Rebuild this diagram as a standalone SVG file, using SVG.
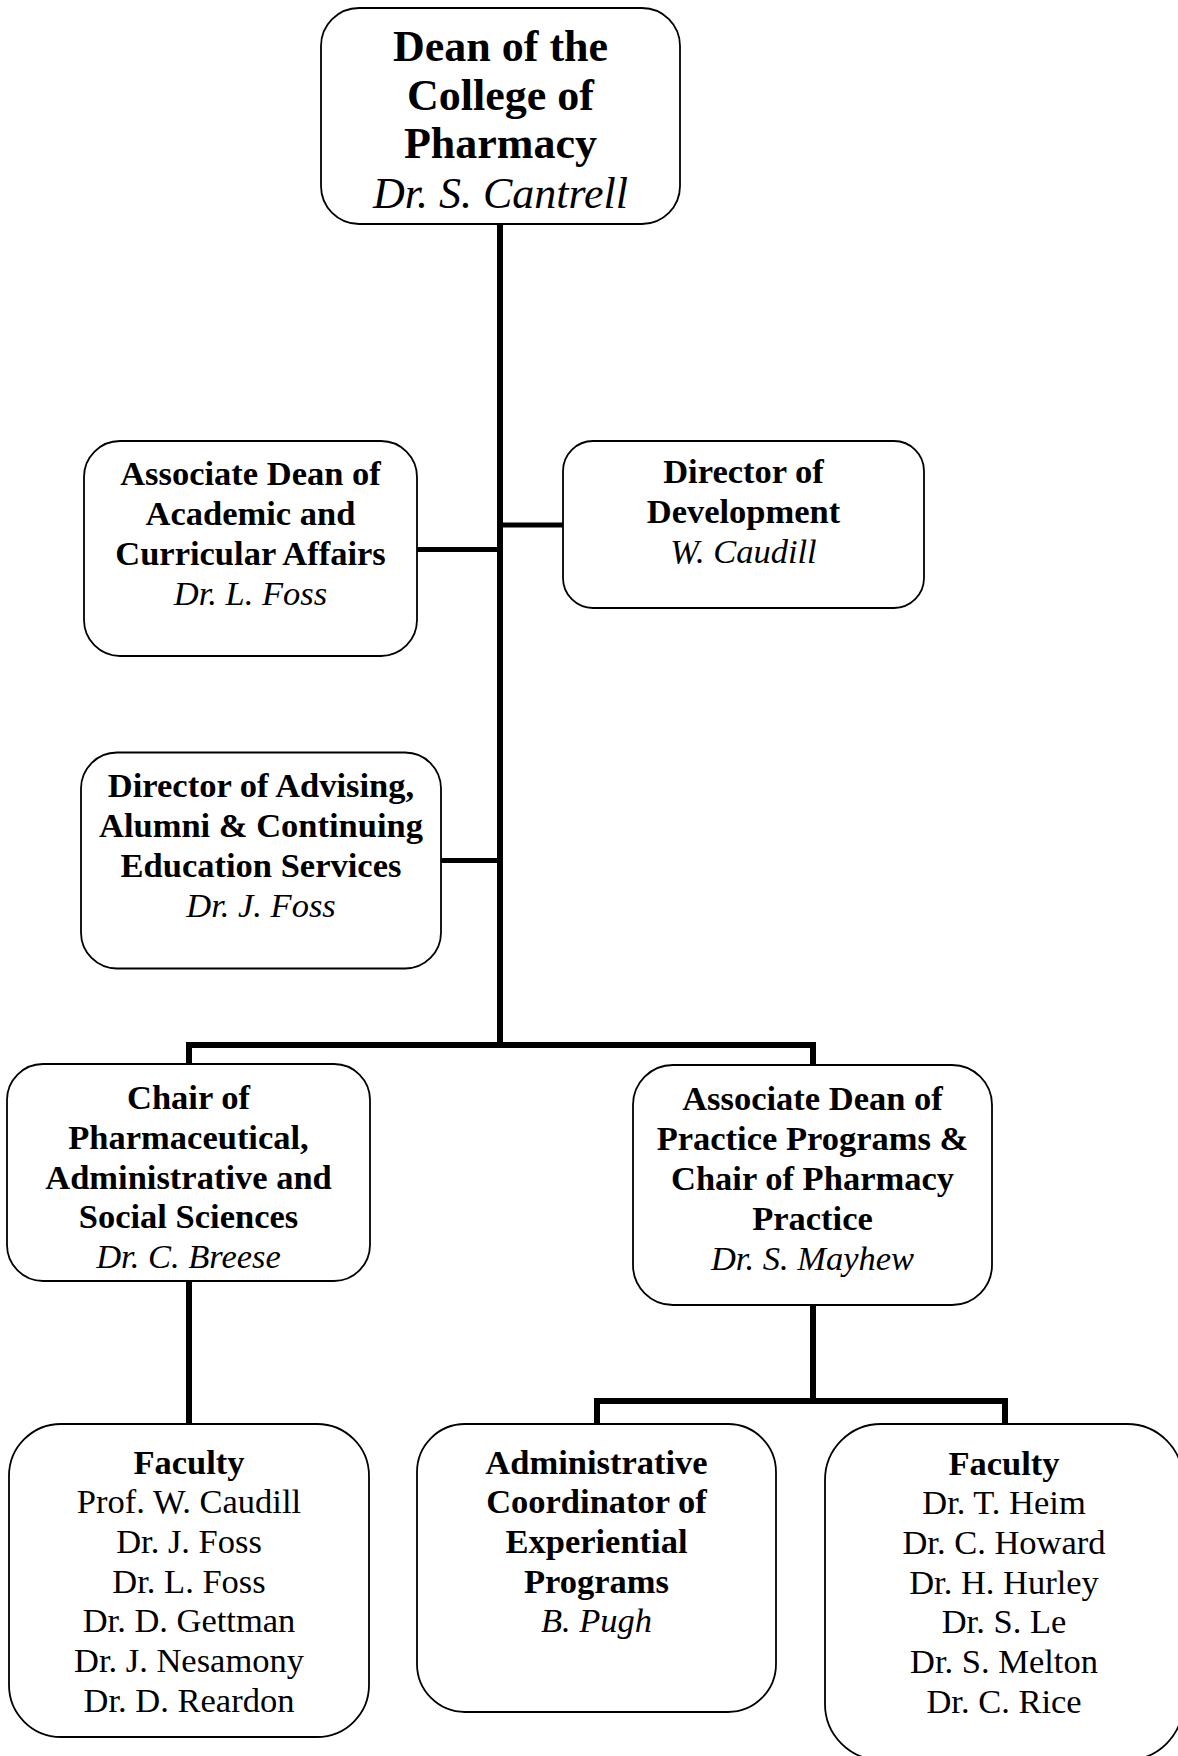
<svg xmlns="http://www.w3.org/2000/svg" width="1178" height="1756" viewBox="0 0 1178 1756">
<style>
.box{fill:#fff;stroke:#000;stroke-width:1.8}
.c{fill:none;stroke:#000;stroke-width:6;stroke-linejoin:miter;stroke-linecap:butt}
.b{stroke-width:5}
text{font-family:"Liberation Serif","Times New Roman",serif;font-size:34.5px;text-anchor:middle;fill:#000}
.t{font-weight:bold}
.i{font-style:italic}
.big{font-size:44px}
</style>
<rect width="1178" height="1756" fill="#fff"/>
<g id="connectors">
<path class="c" d="M500,224 V1045"/>
<path class="c" d="M189,1064 V1045 H813 V1065"/>
<path class="c b" d="M417,549.5 H500"/>
<path class="c b" d="M500,525 H563"/>
<path class="c b" d="M441,860.5 H500"/>
<path class="c" d="M189,1281 V1424"/>
<path class="c" d="M813,1305 V1401"/>
<path class="c" d="M597,1424 V1401 H1005 V1424"/>
</g>
<g id="dean">
<rect class="box" x="321" y="8" width="359" height="216" rx="38"/>
<text class="t big" x="500.5" y="61">Dean of the</text>
<text class="t big" x="500.5" y="110">College of</text>
<text class="t big" x="500.5" y="158">Pharmacy</text>
<text class="i big" x="500.5" y="208">Dr. S. Cantrell</text>
</g>
<g id="assoc-dean-academic">
<rect class="box" x="84" y="441" width="333" height="215" rx="36"/>
<text class="t" x="250.5" y="485">Associate Dean of</text>
<text class="t" x="250.5" y="525">Academic and</text>
<text class="t" x="250.5" y="565">Curricular Affairs</text>
<text class="i" x="250.5" y="605">Dr. L. Foss</text>
</g>
<g id="director-development">
<rect class="box" x="563" y="441" width="361" height="167" rx="30"/>
<text class="t" x="743.5" y="483">Director of</text>
<text class="t" x="743.5" y="523">Development</text>
<text class="i" x="743.5" y="563">W. Caudill</text>
</g>
<g id="director-advising">
<rect class="box" x="81" y="752.5" width="360" height="216" rx="36"/>
<text class="t" x="261" y="797">Director of Advising,</text>
<text class="t" x="261" y="837">Alumni &amp; Continuing</text>
<text class="t" x="261" y="877">Education Services</text>
<text class="i" x="261" y="917">Dr. J. Foss</text>
</g>
<g id="chair-pass">
<rect class="box" x="7" y="1064" width="363" height="217" rx="36"/>
<text class="t" x="188.5" y="1109">Chair of</text>
<text class="t" x="188.5" y="1149">Pharmaceutical,</text>
<text class="t" x="188.5" y="1189">Administrative and</text>
<text class="t" x="188.5" y="1228">Social Sciences</text>
<text class="i" x="188.5" y="1268">Dr. C. Breese</text>
</g>
<g id="assoc-dean-practice">
<rect class="box" x="633" y="1065" width="359" height="240" rx="40"/>
<text class="t" x="812.5" y="1110">Associate Dean of</text>
<text class="t" x="812.5" y="1150">Practice Programs &amp;</text>
<text class="t" x="812.5" y="1190">Chair of Pharmacy</text>
<text class="t" x="812.5" y="1230">Practice</text>
<text class="i" x="812.5" y="1270">Dr. S. Mayhew</text>
</g>
<g id="faculty-pass">
<rect class="box" x="9" y="1424" width="360" height="313" rx="52"/>
<text class="t" x="189" y="1474">Faculty</text>
<text x="189" y="1513">Prof. W. Caudill</text>
<text x="189" y="1553">Dr. J. Foss</text>
<text x="189" y="1593">Dr. L. Foss</text>
<text x="189" y="1632">Dr. D. Gettman</text>
<text x="189" y="1672">Dr. J. Nesamony</text>
<text x="189" y="1712">Dr. D. Reardon</text>
</g>
<g id="admin-coordinator">
<rect class="box" x="417" y="1424" width="359" height="288" rx="48"/>
<text class="t" x="596.5" y="1474">Administrative</text>
<text class="t" x="596.5" y="1513">Coordinator of</text>
<text class="t" x="596.5" y="1553">Experiential</text>
<text class="t" x="596.5" y="1593">Programs</text>
<text class="i" x="596.5" y="1632">B. Pugh</text>
</g>
<g id="faculty-practice">
<rect class="box" x="825" y="1424" width="358" height="336" rx="56"/>
<text class="t" x="1004" y="1475">Faculty</text>
<text x="1004" y="1514">Dr. T. Heim</text>
<text x="1004" y="1554">Dr. C. Howard</text>
<text x="1004" y="1594">Dr. H. Hurley</text>
<text x="1004" y="1633">Dr. S. Le</text>
<text x="1004" y="1673">Dr. S. Melton</text>
<text x="1004" y="1713">Dr. C. Rice</text>
</g>
</svg>
